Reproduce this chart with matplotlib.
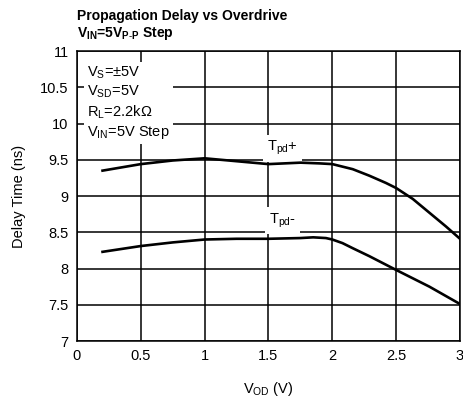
import matplotlib
matplotlib.use("Agg")
import matplotlib.pyplot as plt

plt.rcParams['font.family'] = ['Liberation Sans', 'DejaVu Sans']
plt.rcParams['mathtext.fontset'] = 'custom'
plt.rcParams['mathtext.rm'] = 'Liberation Sans'
plt.rcParams['mathtext.bf'] = 'Liberation Sans:bold'

x_pos = [0.2, 0.5, 0.75, 1.0, 1.25, 1.5, 1.75, 1.9, 2.0, 2.16, 2.29, 2.42, 2.5, 2.63, 2.76, 2.89, 3.0]
tpd_pos = [9.35, 9.44, 9.49, 9.52, 9.48, 9.44, 9.46, 9.45, 9.44, 9.37, 9.28, 9.18, 9.11, 8.96, 8.77, 8.58, 8.41]
x_neg = [0.2, 0.5, 0.75, 1.0, 1.25, 1.5, 1.75, 1.85, 1.95, 2.0, 2.08, 2.16, 2.29, 2.5, 2.76, 3.0]
tpd_neg = [8.23, 8.31, 8.36, 8.40, 8.41, 8.41, 8.42, 8.43, 8.42, 8.40, 8.35, 8.28, 8.17, 7.98, 7.75, 7.51]
xticks = [0, 0.5, 1, 1.5, 2, 2.5, 3]
xticklabels = ['0', '0.5', '1', '1.5', '2', '2.5', '3']
yticks = [7, 7.5, 8, 8.5, 9, 9.5, 10, 10.5, 11]
yticklabels = ['7', '7.5', '8', '8.5', '9', '9.5', '10', '10.5', '11']

fig = plt.figure(figsize=(4.63, 4.01), dpi=100)
ax = fig.add_axes([0.1663, 0.1496, 0.8272, 0.7232])
ax.set_xlim(0, 3)
ax.set_ylim(7, 11)
ax.set_xticks(xticks)
ax.set_xticklabels(xticklabels)
ax.set_yticks(yticks)
ax.set_yticklabels(yticklabels)
ax.tick_params(length=0, labelsize=10.5, pad=6)
ax.grid(True, color='black', lw=1.1)
ax.set_axisbelow(True)
for s in ax.spines.values():
    s.set_linewidth(1.1)

ax.plot(x_pos, tpd_pos, color='black', lw=1.9, zorder=3, solid_joinstyle='round')
ax.plot(x_neg, tpd_neg, color='black', lw=1.9, zorder=3, solid_joinstyle='round')

ax.text(1.61, 9.66, r'T$_{\mathregular{pd}}$+', ha='center', va='center', fontsize=10.5,
        bbox=dict(facecolor='white', edgecolor='none', pad=3), zorder=2)
ax.text(1.61, 8.66, r'T$_{\mathregular{pd}}$-', ha='center', va='center', fontsize=10.5,
        bbox=dict(facecolor='white', edgecolor='none', pad=3), zorder=2)

ax.text(0.08, 10.82, 'V$_{\\mathregular{S}}$=±5V\nV$_{\\mathregular{SD}}$=5V\nR$_{\\mathregular{L}}$=2.2kΩ\nV$_{\\mathregular{IN}}$=5V Step',
        ha='left', va='top', fontsize=10.5, linespacing=1.25,
        bbox=dict(facecolor='white', edgecolor='none', pad=2), zorder=2)

ax.set_ylabel('Delay Time (ns)', fontsize=10.5, labelpad=10)
ax.set_xlabel('V$_{\\mathregular{OD}}$ (V)', fontsize=10.5, labelpad=12)

fig.text(77/463, 1-16/401, 'Propagation Delay vs Overdrive', fontsize=10, fontweight='bold', ha='left', va='center')
fig.text(77/463, 1-33/401, r'V$_{\mathbf{IN}}$=5V$_{\mathbf{P\text{-}P}}$ Step', fontsize=10, fontweight='bold', ha='left', va='center')

fig.savefig('out.png', dpi=100)
